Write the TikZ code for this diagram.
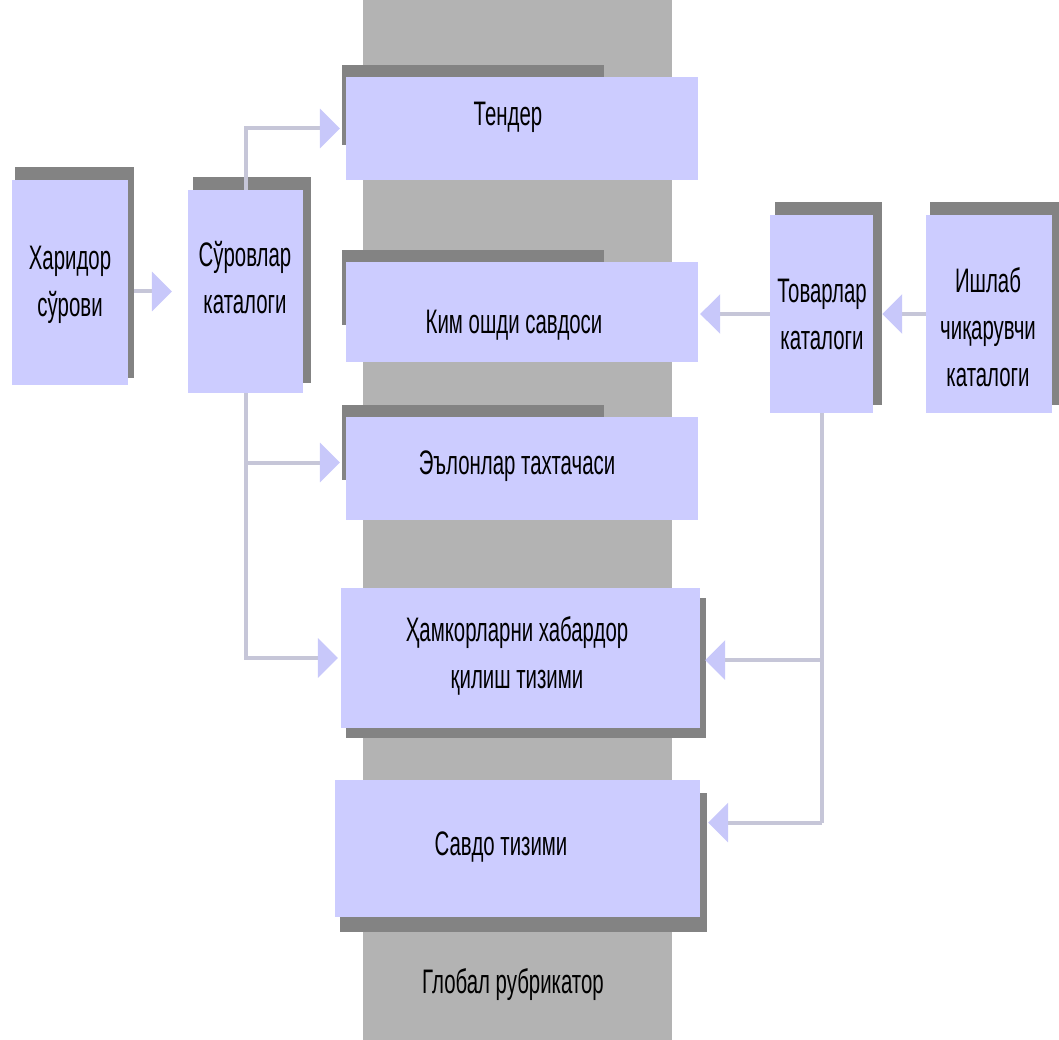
\documentclass[tikz,border=0pt]{standalone}
\usepackage{fontspec}
\setmainfont{Liberation Sans}[FakeStretch=0.6]
\usetikzlibrary{arrows.meta}
\definecolor{col}{HTML}{B3B3B3}
\definecolor{boxc}{HTML}{CCCCFF}
\definecolor{shad}{HTML}{838383}
\definecolor{linec}{HTML}{C6C6D8}
\definecolor{tipc}{HTML}{C8C8FA}
\tikzset{
  box/.style={fill=boxc, draw=none, inner sep=0pt},
  lbl/.style={align=center, inner sep=0pt, font=\fontsize{34}{47}\selectfont},
  shadowr/.style={fill=shad},
  conn/.style={draw=linec, line width=4pt},
  arr/.style={conn, -{Triangle[width=39pt,length=20pt,fill=tipc,color=tipc]}},
}
\begin{document}
\begin{tikzpicture}[x=1pt,y=-1pt]
\useasboundingbox (0,0) rectangle (1059,1040);
% central column
\fill[col] (363,0) rectangle (672,1040);
% shadows
\fill[shadowr] (15,167) rectangle (134,378);
\fill[shadowr] (193,177) rectangle (311,383);
\fill[shadowr] (775,202) rectangle (882,405);
\fill[shadowr] (930,202) rectangle (1059,405);
\fill[shadowr] (342,65) rectangle (604,145);
\fill[shadowr] (342,250) rectangle (604,325);
\fill[shadowr] (342,405) rectangle (604,480);
\fill[shadowr] (346,598) rectangle (706,738);
\fill[shadowr] (340,793) rectangle (707,932);
% boxes
\node[box, minimum width=116pt, minimum height=205pt] (h) at (70,282.5) {};
\node[box, minimum width=115pt, minimum height=203pt] (s) at (245.5,291.5) {};
\node[box, minimum width=352pt, minimum height=103pt] (t) at (522,128.5) {};
\node[box, minimum width=352pt, minimum height=100pt] (k) at (522,312) {};
\node[box, minimum width=352pt, minimum height=103pt] (e) at (522,468.5) {};
\node[box, minimum width=359pt, minimum height=140pt] (hm) at (520.5,658) {};
\node[box, minimum width=365pt, minimum height=137pt] (sv) at (517.5,848.5) {};
\node[box, minimum width=103pt, minimum height=198pt] (tv) at (821.5,314) {};
\node[box, minimum width=126pt, minimum height=198pt] (i) at (989,314) {};
% labels
\node[lbl] (hl) at (70,285) {Харидор\\сўрови};
\node[lbl] (sl) at (245,278) {Сўровлар\\каталоги};
\node[lbl] (tl) at (508,117) {Тендер};
\node[lbl] (kl) at (514,325) {Ким ошди савдоси};
\node[lbl] (el) at (517,466) {Эълонлар тахтачаси};
\node[lbl] (hml) at (517,656) {Ҳамкорларни хабардор\\қилиш тизими};
\node[lbl] (svl) at (501,847) {Савдо тизими};
\node[lbl] (tvl) at (822,314) {Товарлар\\каталоги};
\node[lbl] (il) at (988,327) {Ишлаб\\чиқарувчи\\каталоги};
\node[lbl] (gl) at (513,985) {Глобал рубрикатор};
% connectors
\draw[arr, shorten <=6pt, shorten >=16pt] (h.east |- s.west) -- (s.west);
\draw[arr, shorten >=6pt] (s.north) |- (t.west);
\draw[conn] (s.south) -- (s.south |- hm.west) -- ([xshift=-30pt]hm.west);
\draw[arr, shorten >=6pt] ([yshift=6pt]s.south |- e.west) -- ([yshift=6pt]e.west);
\draw[arr, shorten >=3pt] (s.south |- hm.west) -- (hm.west);
\draw[arr, shorten >=2pt] (tv.west) -- (k.east |- tv.west);
\draw[arr, shorten >=9pt] (i.west) -- (tv.east |- i.west);
\draw[conn] (tv.south) -- ([yshift=26pt]tv.south |- sv.east);
\draw[arr, shorten >=5pt] ([yshift=-2pt]tv.south |- hm.east) -- ([yshift=-2pt]hm.east);
\draw[arr, shorten >=8pt] ([yshift=26pt]tv.south |- sv.east) -- ([yshift=26pt]sv.east);
\end{tikzpicture}
\end{document}
